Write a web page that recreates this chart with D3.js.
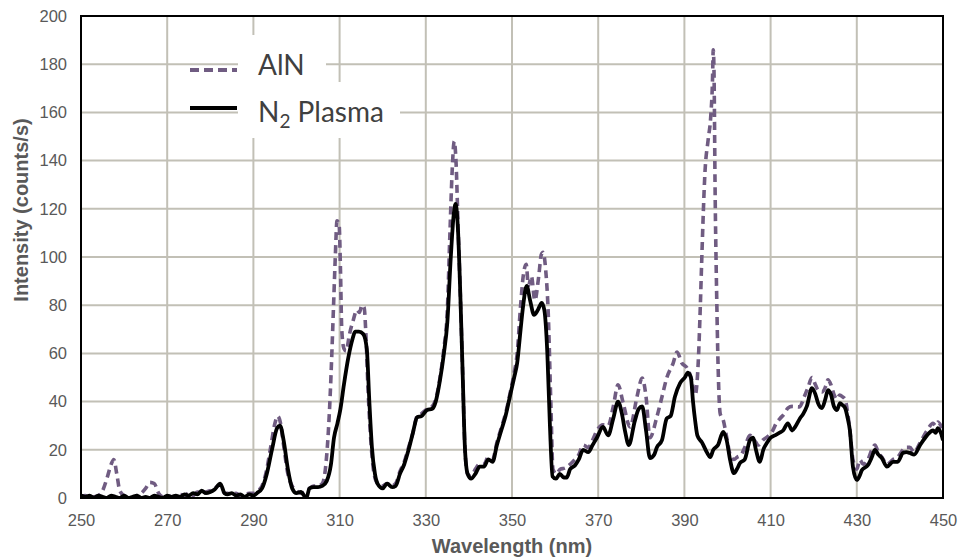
<!DOCTYPE html>
<html><head><meta charset="utf-8">
<script src="https://cdn.jsdelivr.net/npm/d3@7"></script>
<style>body{margin:0;background:#fff}svg{display:block}</style>
</head><body><svg id="c" width="963" height="558"></svg>
<script>
// ---- data ----
const xTicks = [250,270,290,310,330,350,370,390,410,430,450];
const yTicks = [0,20,40,60,80,100,120,140,160,180,200];
const seriesNames = ["AlN","N2 Plasma"];

const n2Wavelength = [250,251,252,253,254,255,256,257,258,259,260,261,262,263,264,265,266,267,268,269,270,271,272,273,274,275,276,277,278,279,280,281,282.3,283.3,284,285,286,287,288,289,290,290.8,292,293.1,294.3,295.5,296.2,297,298,299,300,301,302.3,303,304,305,306,307,308,308.7,309.5,310.2,311,312,313,313.6,314.5,315.5,316.3,316.9,317.5,318.2,318.8,320,321,322.2,323,324,325,326,327,328,329,330.3,331.5,332.3,333.3,334.2,335,335.8,336.5,336.9,337.5,338,338.5,339.1,339.7,340.5,341.5,342.5,343.5,344.5,345.5,346.5,347.5,348.5,349.5,350.5,351.2,352,352.6,353.4,354.2,355.1,356,356.9,357.5,358.2,358.8,359.4,360.2,361.1,362,362.7,363.5,364.6,365.5,366.5,367.7,368.7,369.7,371.1,372.3,373.5,374.6,375.5,376.2,377.1,378.5,379.4,380.2,381.1,382,383,383.6,384.8,385.9,386.8,387.8,389,390.1,390.8,391.5,392,392.5,393,394.1,395.2,396,396.7,397.8,399,399.8,400.6,401.5,402.2,402.9,404,405.2,405.9,406.6,407.5,408.3,409.2,410,411,412,412.9,414,415,415.7,416.8,417.6,418.4,419.6,420.4,421,421.9,422.7,423.3,424,424.7,425.4,426.1,426.7,427.3,427.9,428.4,429.1,430,430.6,431.2,432.6,433.5,434.2,435,435.8,437,438.4,439.5,440.7,441.5,442.3,443.3,444.7,446.3,447.7,448.3,448.8,449.5,450];
const n2Intensity = [1,0.5,1,0,1,0.5,0,1,0.5,0,1,0,0.5,1,0,0.5,0,1,0.5,0,1,0.5,1,0.5,1.5,1,2,1.5,3,2,2.5,3.5,6,2,1.5,2,1,1.5,0.5,1.5,1,2,4,10,20,29,30,24,12,4,2,2.5,0,4,4.5,4.5,5,7,14,25,31,37,47,58,66,69,69,68,62,40,21,10,6,4,6,4.5,5,10,14,20,27,33.5,34,36.5,37,40,49,60,73,100,118,122,110,85,55,20,10,8,10,13,13,16,15,22,28,34,42,50,56,70,80,88,82,76,78,81,78,60,30,9,8,10,8.5,8.5,12,13.5,16,20,19,22,25,29.5,26,33,40,35,28,22,32,37,38,28,16.6,18,21,24,33,34,42,47.7,50,52,50,40,32,26,23,19,17,20,22,27.4,24,15.8,10.3,12,14.5,16,24,25,20,15,20,23,25,26,27,28,31,28,29.5,33,35,38,45.6,43,39.4,37.3,41,44.8,43,38,36.5,39.4,38.5,37.3,33,28,13,7.5,9,11.6,13.7,17,20,18,16.6,13,15,15,18.7,19,18.7,18,22,26,28,27,29,27,24];

const alnWavelength = [250,251,252,253,254,255,256,257,257.6,258.3,259,260,261,262,263,264,265,266,267,268,269,270,271,272,273,274,275,276,277,278,279,280,281,282.3,283.3,284,285,286,287,288,289,290,291,292,293,294,295,295.6,296.3,297,298,299,300,301,302,303,304,305,306,306.7,307.3,307.8,308.2,308.6,309,309.4,309.9,310.2,310.5,311,311.5,312.3,313.2,314,314.6,315.2,315.7,316.1,316.6,317.2,318,318.8,320,321,322,323,324,325,326,327,328,329,330.3,331.5,332.3,333.3,334.2,335,335.6,336.1,336.6,337,337.5,338,338.5,339.1,339.7,340.5,341.5,342.5,343.5,344.5,345.5,346.5,347.5,348.5,349.5,350.5,351.2,352,352.6,353.3,353.8,354.5,355.3,356.2,356.8,357.2,357.8,358.4,359,359.5,360.3,361.2,362.3,363.5,364.6,365.5,366.5,367.7,368.7,369.7,371.1,372.3,373.5,374.6,375.8,377.4,379,380.2,381.1,382,383.6,384.8,385.9,387.4,388.3,389.4,390.6,391.7,392.5,393.2,393.7,394,394.8,395.5,396.1,396.5,396.7,396.9,397.1,397.5,397.8,398.3,399,399.8,400.6,401.5,402.3,403.2,404,405.2,406.2,407.2,408.2,409.2,410.5,411.3,412.2,413.2,414,415,416.7,417.8,418.7,419.6,420.4,421,422,422.7,423.3,424,424.7,425.4,426,426.7,427.3,427.9,428.4,429.1,430,430.7,431.5,432.6,433.5,434.2,435,435.8,437,438.4,439.5,440.7,441.2,442.3,443.3,444.7,446.3,447.7,448.3,448.8,449.5,450];
const alnIntensity = [0.5,1,0,0.5,1,3,8,14,16,10,3,1,0.5,0,1,2,4,6.5,6,2,0.5,1,0.5,1,1.5,1,2,1,2.5,2,2.5,3,4,5.5,2,2,1.5,2,1,1.5,2,2,3,5,11,21,31,34,31,22,10,5,3,2,2.5,4,5,5,6,12,25,42,60,80,100,115,113,95,70,62,61,68,74,78,77,80,79,68,45,25,10,6,5,6,5,6,11,15,21,27,34,35,37,38,41,50,62,78,110,135,148,140,112,85,55,20,10,9,12,14,14,17,16,23,29,35,43,52,60,80,92,97,88,92,82,92,101,102,95,77,40,12,10,12,12.4,14,16,18,22,21,24,28,30.4,30,38,47,39.4,29.5,42,49.8,42,25,33.6,42,49.8,56,60.6,56,54,49,42.7,56,80,97.5,136,148.5,158,172,186,173,132,83,56,35,32.4,25.3,18,16,17,18,21,26,24,22,24,25.3,28,31,33,35,37.3,38,37.8,42,46,50,47,44.8,44,46,49,47,43,41,42.7,42,40.9,35,28,16,12,15.8,14,16,20,22,19,17,14,16,17,20,21,21,19,23,28,31,30,31.5,30,28];

// ---- layout ----
const L = 81, R = 943, T = 16, B = 498;
const svg = d3.select("#c");
const x = d3.scaleLinear().domain([250,450]).range([L,R]);
const y = d3.scaleLinear().domain([0,200]).range([B,T]);
const gridCol = "#c2c0b6", tickCol = "#595959";
const af = "'Liberation Sans',Arial,sans-serif";

// grid
const g = svg.append("g");
g.selectAll(".vg").data(xTicks).join("line")
  .attr("x1",d=>x(d)).attr("x2",d=>x(d)).attr("y1",T).attr("y2",B)
  .attr("stroke",gridCol).attr("stroke-width",2);
g.selectAll(".hg").data(yTicks).join("line")
  .attr("y1",d=>y(d)).attr("y2",d=>y(d)).attr("x1",L).attr("x2",R)
  .attr("stroke",gridCol).attr("stroke-width",2);

// axes labels via d3 axes
const xAxis = svg.append("g").attr("transform",`translate(0,${B})`)
  .call(d3.axisBottom(x).tickValues(xTicks).tickSize(0).tickPadding(16).tickFormat(d3.format("d")));
const yAxis = svg.append("g").attr("transform",`translate(${L},0)`)
  .call(d3.axisLeft(y).tickValues(yTicks).tickSize(0).tickPadding(14).tickFormat(d3.format("d")));
[xAxis,yAxis].forEach(a=>{
  a.select(".domain").remove();
  a.selectAll("text").attr("fill",tickCol).style("font-family",af).style("font-size","16.5px");
});

// legend text backgrounds (white boxes hide grid)
svg.append("rect").attr("x",238).attr("y",35).attr("width",88).attr("height",47).attr("fill","#fff");
svg.append("rect").attr("x",238).attr("y",82).attr("width",162).attr("height",56).attr("fill","#fff");

// lines
svg.append("clipPath").attr("id","clip").append("rect").attr("x",L).attr("y",T).attr("width",R-L).attr("height",B-T);
const line = d3.line().x(d=>x(d[0])).y(d=>y(d[1])).curve(d3.curveMonotoneX);
const alnData = alnWavelength.map((w,i)=>[w,alnIntensity[i]]);
const n2Data = n2Wavelength.map((w,i)=>[w,n2Intensity[i]]);
const purple = "#705c82";
svg.append("path").attr("clip-path","url(#clip)").attr("d",line(alnData)).attr("fill","none")
  .attr("stroke",purple).attr("stroke-width",3.6).attr("stroke-dasharray","8,5");
svg.append("path").attr("clip-path","url(#clip)").attr("d",line(n2Data)).attr("fill","none")
  .attr("stroke","#000").attr("stroke-width",3.8).attr("stroke-linejoin","round");

// frame
svg.append("rect").attr("x",L).attr("y",T).attr("width",R-L).attr("height",B-T)
  .attr("fill","none").attr("stroke","#000").attr("stroke-width",2);

// legend
const lg = svg.append("g");
lg.append("line").attr("x1",190).attr("x2",237).attr("y1",70).attr("y2",70)
  .attr("stroke",purple).attr("stroke-width",4).attr("stroke-dasharray","9,5");
lg.append("line").attr("x1",190).attr("x2",237).attr("y1",108).attr("y2",108)
  .attr("stroke","#000").attr("stroke-width",4);
const lf = "Lato,'Open Sans',sans-serif";
lg.append("text").attr("x",258).attr("y",75).attr("fill","#404040")
  .style("font-family",lf).style("font-size","28px").text(seriesNames[0]);
const t2 = lg.append("text").attr("x",258).attr("y",122).attr("fill","#404040")
  .style("font-family",lf).style("font-size","28px");
t2.append("tspan").text("N");
t2.append("tspan").attr("dy",6).style("font-size","19px").text("2");
t2.append("tspan").attr("dy",-6).text(" Plasma");

// axis titles
svg.append("text").attr("x",(L+R)/2).attr("y",553).attr("text-anchor","middle")
  .attr("fill",tickCol).style("font-family",af).style("font-weight","bold").style("font-size","20px")
  .text("Wavelength (nm)");
svg.append("text").attr("transform",`translate(27.5,210) rotate(-90)`).attr("text-anchor","middle")
  .attr("fill",tickCol).style("font-family",af).style("font-weight","bold").style("font-size","20px")
  .text("Intensity (counts/s)");
</script></body></html>
